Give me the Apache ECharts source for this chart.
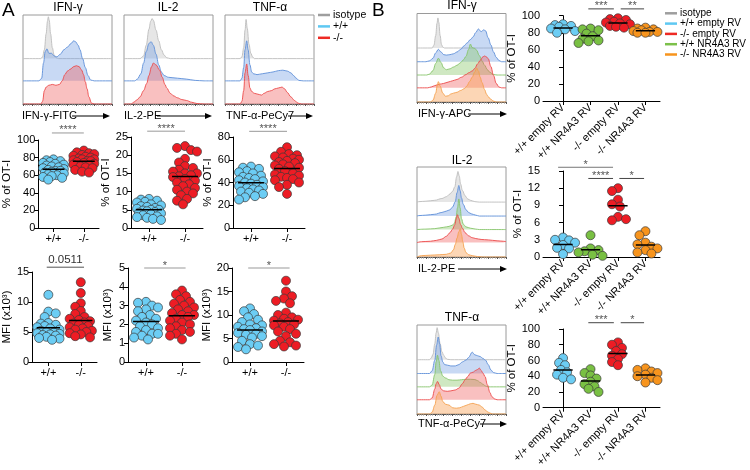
<!DOCTYPE html>
<html>
<head>
<meta charset="utf-8">
<script src="https://cdn.jsdelivr.net/npm/echarts@6/dist/echarts.min.js"></script>
<style>
html, body { margin: 0; padding: 0; background: #fff; }
#main { width: 750px; height: 470px; }
</style>
</head>
<body>
<div id="main"></div>
<script>
var FONT = 'Arial, "Liberation Sans", sans-serif';

// ---- flow histograms: [x (0-100 across box), height (% of box)]
// A: IFN-γ
var hA1Iso = [[0,0],[20,0],[22,2],[24,10],[26,28],[27.5,42],[28.5,47],[29.5,43],[31,28],[33,12],[35,4],[37,1],[40,0],[100,0]];
var hA1Wt  = [[0,0],[18,0],[21,3],[23,20],[25,33],[27,36],[29,31],[32,31],[35,28],[38,27],[42,30],[46,35],[50,38],[54,42],[57,45],[59,44],[62,40],[64,35],[67,25],[70,15],[73,6],[76,1],[80,0],[100,0]];
var hA1Ko  = [[0,0],[20,0],[22,3],[24,15],[26,19],[29,21],[33,22],[37,21],[41,22],[44,26],[47,33],[50,37],[53,39],[57,42],[60,43],[63,42],[66,38],[68,33],[70,25],[72,17],[74,8],[77,1],[80,0],[100,0]];
// A: IL-2
var hA2Iso = [[0,0],[18,0],[22,3],[25,15],[28,33],[30,42],[31.5,45],[33,43],[36,32],[39,20],[42,10],[45,4],[48,1],[52,0],[100,0]];
var hA2Wt  = [[0,0],[12,0],[15,2],[19,8],[22,20],[25,33],[28,42],[30.5,44],[33,40],[36,30],[39,18],[42,10],[45,6],[50,4],[60,3],[70,2],[80,0.5],[90,0],[100,0]];
var hA2Ko  = [[0,0],[8,0],[11,2],[15,5],[18,8],[22,15],[25.5,23],[28,32],[31,42],[33,46],[36,44],[40,38],[43,30],[46,22],[48,18],[52,12],[56,9],[60,7],[65,5],[70,4],[76,2],[82,0.5],[90,0],[100,0]];
// A: TNF-α
var hA3Iso = [[0,0],[17,0],[19,2],[21,12],[22.5,32],[23.7,44],[25,34],[27,16],[29,6],[31,2],[33,0],[100,0]];
var hA3Wt  = [[0,0],[17,0],[19,3],[21,15],[22.5,35],[24.4,45],[26,35],[28,18],[30,10],[32,8],[36,7],[42,8],[48,9],[54,10],[60,11.5],[65,12],[70,11],[74,9],[77,6],[80,3],[83,0.5],[88,0],[100,0]];
var hA3Ko  = [[0,0],[17,0],[19,3],[21,15],[22.5,35],[24.4,45],[26,32],[28,18],[30,14],[33,12],[37,11],[41,10],[44,12],[48,14],[52,15],[56,17],[60,18],[64,19],[67,17],[70,13],[74,8],[78,4],[82,1],[86,0],[100,0]];

// B: IFN-γ
var hB1Iso = [[0,0],[17,0],[19,3],[21,14],[22.5,28],[23.5,34],[24.5,29],[26,14],[27.5,4],[29,1],[31,0],[100,0]];
var hB1Wt  = [[0,0],[10,0],[14,1],[18,4],[21,10],[24,14],[27,11],[30,8],[33,7.5],[37,8],[41,9],[45,11],[49,14],[53,18],[56,21],[60,25],[63,28],[66,33],[69,37],[72,34],[75,36],[77,35],[80,27],[83,19],[86,11],[89,5],[92,1.5],[95,0],[100,0]];
var hB1WtN = [[0,0],[11,0],[14,1],[18,5],[21,13],[24,19],[27,14],[30,8],[33,6],[37,7],[41,9],[45,11],[49,14],[52,17],[55,21],[58,29],[60,35],[62,31],[65,30],[67,28],[70,22],[73,16],[76,11],[79,6],[82,3],[86,0.5],[90,0],[100,0]];
var hB1Ko  = [[0,0],[12,0],[16,1],[20,2.5],[25,4],[30,5],[35,6.5],[40,8],[45,9.5],[50,12],[55,15],[58,17],[62,19],[65,22],[68,27],[71,31],[74,35],[76,36],[78,35],[80,33],[83,24],[86,14],[89,5],[92,1],[95,0],[100,0]];
var hB1KoN = [[0,0],[15,0],[18,2],[21,10],[23,20],[24,23],[26,18],[29,10],[32,6.5],[35,7],[38,9],[41,10],[45,11],[49,13],[53,15],[56,18],[59,23],[62,28],[65,34],[67,38.5],[69,35],[71,28],[73,22],[76,14],[78,9],[80,6],[83,3],[86,1],[89,0],[100,0]];
// B: IL-2
var hB2Iso = [[0,0],[2,0.5],[10,1],[20,2],[28,4],[33,6],[37,9],[40,12],[42.5,17],[44.5,28],[46,34],[47.5,29],[49,20],[51,13],[54,7],[57,3.5],[60,2],[65,0.5],[70,0],[100,0]];
var hB2Wt  = [[0,0],[2,0.5],[10,1],[20,2],[28,4],[33,5.5],[37,7],[40,10],[43,16],[45,26],[47,34],[48.5,28],[50,20],[52,13],[55,7],[58,4],[61,2.5],[66,1],[70,0],[100,0]];
var hB2WtN = [[0,0],[10,0.5],[20,1],[30,2.5],[36,3.5],[40,5],[42,7],[44,14],[45.5,24],[47,34],[48.5,24],[50,12],[52,6],[55,3],[60,1.5],[66,0.5],[70,0],[100,0]];
var hB2Ko  = [[0,0],[5,1],[15,1.5],[22,2.5],[28,4],[33,7],[37,11],[40,15],[42.5,20],[44,26],[45.5,31],[47,27],[49,20],[51,16],[54,11],[58,7.5],[62,5.5],[66,4.5],[72,3.5],[80,3],[90,2],[97,1.5],[100,1]];
var hB2KoN = [[0,0],[5,1.5],[15,2],[25,2.5],[33,3],[38,4.5],[41,8],[43,14],[45,21],[47,28],[48.7,31.5],[50,25],[51.5,17],[53,10],[55,5],[58,2.5],[62,1.5],[68,0.5],[74,0],[100,0]];
// B: TNF-α
var hB3Iso = [[0,0],[14,0],[16,2],[18,6],[20,18],[21.5,30],[22.6,36],[24,30],[26,18],[28,9],[30,5],[32,2],[34,0.5],[38,0],[100,0]];
var hB3Wt  = [[0,0],[14,0],[17,3],[20,15],[22,32],[23.8,41],[25.5,33],[27,20],[29,13],[31,10],[34,9.4],[38,8.5],[43,8.5],[47,10],[51,13],[55,15],[58,18],[62,24],[65,21],[68,20],[71,19],[74,17],[77,15],[80,10],[83,4],[86,1],[90,0],[100,0]];
var hB3WtN = [[0,0],[14,0],[17,2],[20,14],[21.5,28],[23,35.6],[24.5,30],[26.5,18],[29,12],[32,10],[36,8],[40,7.5],[45,7.5],[50,8],[55,8.5],[60,8.5],[65,8.2],[68,7],[71,5],[74,3],[77,1],[80,0],[100,0]];
var hB3Ko  = [[0,0],[14,0],[17,2],[20,12],[21.5,18],[23,20.6],[25,17],[27,12],[30,10],[34,9.5],[38,10],[43,11],[47,13],[51,18],[54,22.5],[57,26],[60,30],[63,31],[66,33],[68,34],[70,35.6],[72,33],[74,30],[76.5,26],[79,17],[82,8],[84,3.7],[87,1],[90,0],[100,0]];
var hB3KoN = [[0,0],[14,0],[17,2],[20,10],[22.5,21],[25,25],[27,20],[29,14],[32,11],[36,10],[40,7],[44,6.5],[48,7],[52,8.5],[56,10],[60,11.5],[63,12],[66,11],[70,10],[73,8],[76,5],[79,2.6],[82,1],[85,0],[100,0]];

// ---- dot plots
var catsA = ['+/+', '-/-'];
var catsB = ['+/+ empty RV', '+/+ NR4A3 RV', '-/- empty RV', '-/- NR4A3 RV'];

var ifnPctWt = [78,77,76,75,74,73,72,71,70,69,68,67,66,65,65,64,63,62,61,60,59,58,57,55];
var ifnPctKo = [88,86,85,84,83,82,81,80,79,78,78,77,76,76,75,74,73,72,71,70,69,68,66,64,63];
var il2PctWt = [8,7.8,7.5,7.2,7,6.5,6.2,6,5.8,5.5,5.3,5,5,4.8,4.6,4.4,4.2,4,3.8,3.5,3.2,3,2.8,2.5,2.2];
var il2PctKo = [22.5,22,21.4,21,19,18,17,16.5,16,15.5,15,15,14.5,14.2,14,13.5,13,12.5,12,11.5,11,10.5,10,9.5,9,8,7.5,6.5];
var tnfPctWt = [54,53,52,50,49,48,46,45,44,43,42,41,40,39,38,37,36,35,34,33,32,31,30,28,27,25];
var tnfPctKo = [71,67,65,64,63,62,61,60,59,58,57,56,55,54,53,52,50,48,47,46,45,44,43,42,40,38,36,30];
var ifnMfiWt = [11.2,8.4,8.1,7.5,6.5,6.4,6.2,6,5.8,5.6,5.4,5.2,5,4.9,4.8,4.7,4.6,4.5,4.4,4.2,4,3.9,3.7];
var ifnMfiKo = [13.3,11.5,9.8,9.2,8.5,8,7.5,7.2,7,6.8,6.6,6.4,6.2,6,5.8,5.6,5.4,5.2,5,4.8,4.6,4.3,4.1];
var il2MfiWt = [3.2,3.15,3,2.9,2.8,2.7,2.5,2.4,2.3,2.2,2.1,2,1.9,1.8,1.7,1.6,1.5,1.5,1.4,1.3,1.2];
var il2MfiKo = [3.8,3.6,3.5,3.3,3.2,3.1,3,2.9,2.8,2.7,2.6,2.5,2.5,2.4,2.3,2.2,2.1,2,1.9,1.8,1.7,1.6,1.5,1.4,1.2];
var tnfMfiWt = [11.4,10.8,10.2,9.5,9,8.5,8,7.8,7.5,7.2,7,6.8,6.5,6.2,6,5.8,5.5,5.2,4.5,3.8,3.5,3.2,2.7];
var tnfMfiKo = [17.3,15,14,13.5,13,12.5,10.5,10,9.5,9.2,9,8.8,8.5,8.2,8,7.8,7.5,7,6.5,6,5.5,4.5,4.2,3.8,3.5,3.3];

var bIfnWtE = [90,89,88,87,85,84,82,80];
var bIfnWtN = [85,84,83,79,76,73,71,70,68];
var bIfnKoE = [97,96,95,93,92,91,90,88,87,86];
var bIfnKoN = [86,85,84,83,82,81,81,80,80];
var bIl2WtE = [3.4,3,2.9,2.5,2.1,1.6,1.5,0.5];
var bIl2WtN = [3.8,1.5,1.2,1,0.8,0.4,0.2];
var bIl2KoE = [12,11.5,10,9.2,8.8,7,6.6,6.4];
var bIl2KoN = [4.5,3.8,2.5,2.2,1.8,1.5,1.2,0.8,0.6];
var bTnfWtE = [63,57,54,48,45,42,38,36];
var bTnfWtN = [49,44,41,37,33,30,27,24,20];
var bTnfKoE = [83,80,76,72,68,66,62,58,54];
var bTnfKoN = [50,48,46,44,42,40,38,35,32];

// ---- colours
var cIso = {line: '#bcbcbc', fill: 'rgba(205,205,205,0.5)'};
var cWt = {line: '#5d8fd8', fill: 'rgba(110,155,225,0.38)'};
var cKo = {line: '#ec4a4a', fill: 'rgba(238,90,90,0.38)'};
var cWtN = {line: '#86c46a', fill: 'rgba(140,200,110,0.42)'};
var cKoN = {line: '#f4a04e', fill: 'rgba(248,165,90,0.45)'};
var dotBlue = '#6ccdf4', dotRed = '#ed1c24', dotGreen = '#79c043', dotOrange = '#f7941d';

var grids = [], xAxes = [], yAxes = [], series = [];

function histPanel(box, curves, cols, offsets) {
    var gi = grids.length;
    grids.push({left: box[0], top: box[1], width: box[2], height: box[3], show: true,
        borderColor: '#9a9a9a', borderWidth: 1});
    xAxes.push({gridIndex: gi, type: 'value', min: 0, max: 100, interval: 10,
        axisLine: {show: true, onZero: false, lineStyle: {color: '#555', width: 1}},
        axisTick: {show: true, length: 2, lineStyle: {color: '#555'}},
        minorTick: {show: true, splitNumber: 4, length: 1.5, lineStyle: {color: '#888'}},
        axisLabel: {show: false}, splitLine: {show: false}});
    yAxes.push({gridIndex: gi, type: 'value', min: 0, max: 100, show: false, splitLine: {show: false}});
    curves.forEach(function (c, i) {
        var off = offsets[i];
        series.push({type: 'line', xAxisIndex: gi, yAxisIndex: gi, silent: true, symbol: 'none',
            smooth: 0.35, smoothMonotone: 'x',
            data: c.map(function (p) { return [p[0], off + p[1]]; }),
            lineStyle: {color: cols[i].line, width: 0.9},
            areaStyle: {color: cols[i].fill, origin: off, opacity: 1},
            z: 2 + i});
    });
    return gi;
}

// deterministic beeswarm: pixel offsets so dots do not sit on top of each other
function swarm(vals, pxPerY, diam, maxOff) {
    var order = vals.map(function (v, i) { return i; }).sort(function (a, b) { return vals[b] - vals[a]; });
    var placed = [], offs = [];
    var step = 2;
    order.forEach(function (i, n) {
        var y = vals[i] * pxPerY, best = 0, bestD = -1;
        var kmax = 2 * Math.floor(maxOff / step);
        for (var k = 0; k <= kmax; k++) {
            var sgn = (k % 2 ? 1 : -1) * (n % 2 ? -1 : 1);
            var o = sgn * Math.ceil(k / 2) * step;
            var dmin = Infinity;
            placed.forEach(function (p) {
                dmin = Math.min(dmin, Math.sqrt((p[0] - o) * (p[0] - o) + (p[1] - y) * (p[1] - y)));
            });
            if (dmin >= diam * 0.72) { best = o; bestD = dmin; break; }
            if (dmin > bestD) { bestD = dmin; best = o; }
        }
        placed.push([best, y]);
        offs[i] = best;
    });
    return offs;
}

function mean(a) {
    var s = 0;
    a.forEach(function (v) { s += v; });
    return s / a.length;
}

function dotPanel(box, yMax, yStep, yName, cats, catX, xRange, groups, colors, halfW, rotate) {
    var gi = grids.length;
    grids.push({left: box[0], top: box[1], width: box[2], height: box[3]});
    xAxes.push({gridIndex: gi, type: 'value', min: xRange[0], max: xRange[1],
        axisLine: {show: true, onZero: false, lineStyle: {color: '#000', width: 1}},
        axisTick: {show: true, customValues: catX, length: 4, lineStyle: {color: '#000'}},
        axisLabel: {show: true, customValues: catX, rotate: rotate, margin: 5,
            fontSize: 11, color: '#000', fontFamily: FONT,
            formatter: function (v) {
                var best = 0;
                catX.forEach(function (c, i) { if (Math.abs(c - v) < Math.abs(catX[best] - v)) best = i; });
                return cats[best];
            }},
        splitLine: {show: false}});
    yAxes.push({gridIndex: gi, type: 'value', min: 0, max: yMax, interval: yStep,
        name: yName, nameLocation: 'middle', nameGap: 14,
        nameTextStyle: {fontSize: 11.5, color: '#000', fontFamily: FONT},
        axisLine: {show: true, lineStyle: {color: '#000', width: 1}},
        axisTick: {show: true, length: 4, lineStyle: {color: '#000'}},
        axisLabel: {fontSize: 11, color: '#000', fontFamily: FONT, margin: 3},
        splitLine: {show: false}});
    var pxPerY = box[3] / yMax;
    var unitsPerPx = (xRange[1] - xRange[0]) / box[2];
    groups.forEach(function (vals, g) {
        var offs = swarm(vals, pxPerY, 9, 12);
        series.push({type: 'scatter', xAxisIndex: gi, yAxisIndex: gi, silent: true, symbolSize: 9,
            itemStyle: {color: colors[g], borderColor: '#3a3a3a', borderWidth: 0.7, opacity: 1},
            data: vals.map(function (v, i) { return [catX[g] + offs[i] * unitsPerPx, v]; }),
            z: 3});
        var m = mean(vals);
        series.push({type: 'line', xAxisIndex: gi, yAxisIndex: gi, silent: true, symbol: 'none',
            data: [[catX[g] - halfW, m], [catX[g] + halfW, m]],
            lineStyle: {color: '#000', width: 1.5}, z: 5});
    });
    return gi;
}

// ---- panel A
var offA = [51, 26, 0];
histPanel([23, 15, 89, 89], [hA1Iso, hA1Wt, hA1Ko], [cIso, cWt, cKo], offA);
histPanel([124, 15, 89, 89], [hA2Iso, hA2Wt, hA2Ko], [cIso, cWt, cKo], offA);
histPanel([225, 15, 89, 89], [hA3Iso, hA3Wt, hA3Ko], [cIso, cWt, cKo], offA);

var xA = [0.5, 1.5], rA = [0, 2];
var gA1 = dotPanel([29, 140, 70, 88], 100, 20, '% of OT-I', catsA, xA, rA, [ifnPctWt, ifnPctKo], [dotBlue, dotRed], 0.36, 0);
var gA2 = dotPanel([131, 137, 72, 91], 25, 5, '% of OT-I', catsA, xA, rA, [il2PctWt, il2PctKo], [dotBlue, dotRed], 0.36, 0);
var gA3 = dotPanel([233, 137, 72, 91], 80, 20, '% of OT-I', catsA, xA, rA, [tnfPctWt, tnfPctKo], [dotBlue, dotRed], 0.36, 0);
var gA4 = dotPanel([27, 272, 70, 90], 15, 5, 'MFI (x10³)', catsA, xA, rA, [ifnMfiWt, ifnMfiKo], [dotBlue, dotRed], 0.36, 0);
var gA5 = dotPanel([128, 268, 72, 94], 5, 1, 'MFI (x10³)', catsA, xA, rA, [il2MfiWt, il2MfiKo], [dotBlue, dotRed], 0.36, 0);
var gA6 = dotPanel([232, 268, 72, 94], 20, 5, 'MFI (x10³)', catsA, xA, rA, [tnfMfiWt, tnfMfiKo], [dotBlue, dotRed], 0.36, 0);

// ---- panel B
var offB = [61, 45.5, 30.5, 16, 0];
var colsB = [cIso, cWt, cWtN, cKo, cKoN];
histPanel([417, 13.5, 89, 88.5], [hB1Iso, hB1Wt, hB1WtN, hB1Ko, hB1KoN], colsB, offB);
histPanel([417, 167, 89, 90], [hB2Iso, hB2Wt, hB2WtN, hB2Ko, hB2KoN], colsB, offB);
histPanel([417, 325, 89, 89], [hB3Iso, hB3Wt, hB3WtN, hB3Ko, hB3KoN], colsB, offB);

var xB = [0, 1, 2, 3], rB = [-0.73, 3.53];
var dotsB = [dotBlue, dotGreen, dotRed, dotOrange];
var gB1 = dotPanel([543, 15.7, 117, 85.3], 100, 20, '% of OT-I', catsB, xB, rB, [bIfnWtE, bIfnWtN, bIfnKoE, bIfnKoN], dotsB, 0.35, 45);
var gB2 = dotPanel([543, 171, 117, 86], 15, 3, '% of OT-I', catsB, xB, rB, [bIl2WtE, bIl2WtN, bIl2KoE, bIl2KoN], dotsB, 0.35, 45);
var gB3 = dotPanel([543, 329, 117, 85], 100, 20, '% of OT-I', catsB, xB, rB, [bTnfWtE, bTnfWtN, bTnfKoE, bTnfKoN], dotsB, 0.35, 45);

// significance bars: grid, x from, x to, y (axis units), label
var sigs = [
    [gA1, 0.45, 1.5, 108, '****', '#999'],
    [gA2, 0.45, 1.5, 26.6, '****', '#999'],
    [gA3, 0.45, 1.5, 85, '****', '#999'],
    [gA4, 0.45, 1.6, 15.8, '0.0511', '#555'],
    [gA5, 0.45, 1.6, 5, '*', '#999'],
    [gA6, 0.45, 1.6, 20, '*', '#999'],
    [gB1, 0.92, 1.85, 108, '***', '#444'],
    [gB1, 2.1, 2.95, 108, '**', '#444'],
    [gB2, -0.18, 1.82, 15.65, '*', '#777'],
    [gB2, 0.92, 1.82, 13.7, '****', '#444'],
    [gB2, 2.05, 2.95, 13.7, '*', '#444'],
    [gB3, 0.92, 1.85, 108, '***', '#444'],
    [gB3, 2.1, 2.95, 108, '*', '#444']
];

var textStyle = function (t, size, extra) {
    var s = {text: t, fontSize: size, fontFamily: FONT, fill: '#000'};
    for (var k in extra) s[k] = extra[k];
    return s;
};

var graphics = [
    {type: 'text', x: 2, y: 1, style: textStyle('A', 19, {})},
    {type: 'text', x: 372, y: 1, style: textStyle('B', 19, {})}
];

// histogram titles
[['IFN-γ', 68, 8], ['IL-2', 168, 8], ['TNF-α', 270, 8],
 ['IFN-γ', 462, 6], ['IL-2', 462, 161], ['TNF-α', 462, 318]].forEach(function (t) {
    graphics.push({type: 'text', x: t[1], y: t[2], style: textStyle(t[0], 12, {align: 'center', verticalAlign: 'middle'})});
});

// channel labels with arrows
function arrowLabel(text, x, y, x1, x2) {
    graphics.push({type: 'text', x: x, y: y, style: textStyle(text, 11, {verticalAlign: 'middle'})});
    graphics.push({type: 'line', shape: {x1: x1, y1: y, x2: x2 - 4, y2: y}, style: {stroke: '#000', lineWidth: 1}});
    graphics.push({type: 'polygon', shape: {points: [[x2 - 7, y - 3], [x2, y], [x2 - 7, y + 3]]}, style: {fill: '#000'}});
}
arrowLabel('IFN-γ-FITC', 22, 116, 72, 110);
arrowLabel('IL-2-PE', 124, 116, 157, 212);
arrowLabel('TNF-α-PeCy7', 226, 116, 288, 313);
arrowLabel('IFN-γ-APC', 418, 114, 468, 507);
arrowLabel('IL-2-PE', 418, 269, 458, 507);
arrowLabel('TNF-α-PeCy7', 418, 424, 480, 507);

// legends
function legend(items, x, y0, dy, size) {
    items.forEach(function (it, i) {
        var y = y0 + i * dy;
        graphics.push({type: 'line', shape: {x1: x, y1: y, x2: x + 12, y2: y}, style: {stroke: it[1], lineWidth: 2.5}});
        graphics.push({type: 'text', x: x + 15, y: y, style: textStyle(it[0], size, {verticalAlign: 'middle'})});
    });
}
legend([['isotype', '#9e9e9e'], ['+/+', '#5ec8f2'], ['-/-', '#ee2a24']], 318, 15, 11.4, 10.5);
legend([['isotype', '#9e9e9e'], ['+/+ empty RV', '#5ec8f2'], ['-/- empty RV', '#ee2a24'],
        ['+/+ NR4A3 RV', '#7cc04a'], ['-/- NR4A3 RV', '#f7941d']], 665, 13.3, 10.3, 10);

var chart = echarts.init(document.getElementById('main'));
chart.setOption({
    animation: false,
    textStyle: {fontFamily: FONT},
    grid: grids,
    xAxis: xAxes,
    yAxis: yAxes,
    series: series
});

sigs.forEach(function (s) {
    var p1 = chart.convertToPixel({gridIndex: s[0]}, [s[1], s[3]]);
    var p2 = chart.convertToPixel({gridIndex: s[0]}, [s[2], s[3]]);
    graphics.push({type: 'line', shape: {x1: p1[0], y1: p1[1], x2: p2[0], y2: p1[1]}, style: {stroke: s[5], lineWidth: 1}});
    var isNum = s[4].indexOf('*') < 0;
    graphics.push({type: 'text', x: (p1[0] + p2[0]) / 2, y: isNum ? p1[1] - 1 : p1[1] - 8,
        style: textStyle(s[4], isNum ? 11.5 : 11, {align: 'center', verticalAlign: isNum ? 'bottom' : 'top', fill: isNum ? '#333' : '#555'})});
});

chart.setOption({graphic: graphics});
</script>
</body>
</html>
